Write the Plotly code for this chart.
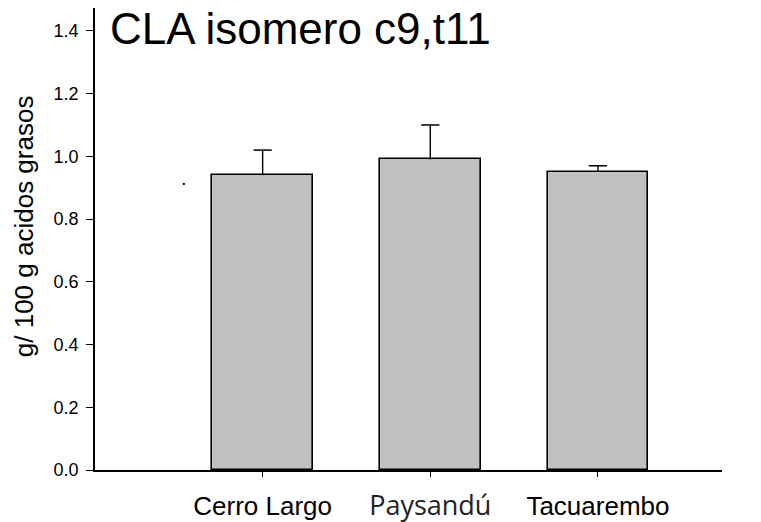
import plotly.graph_objects as go

# Contenido de CLA c9,t11 por departamento (g / 100 g de ácidos grasos)
departamentos = ["Cerro Largo", "Paysandú", "Tacuarembo"]
medias = [0.94, 0.99, 0.95]
errores = [0.08, 0.11, 0.02]
y_ticks = [0.0, 0.2, 0.4, 0.6, 0.8, 1.0, 1.2, 1.4]

# punto suelto junto a la primera barra
punto_x = [-0.47]
punto_y = [0.912]

pos = list(range(len(departamentos)))
etiquetas = []
for d in departamentos:
    if d == "Paysandú":
        etiquetas.append('<span style="font-family:\'Open Sans\';font-size:27px;color:#222">' + d + "</span>")
    else:
        etiquetas.append(d)

fig = go.Figure()
fig.add_trace(go.Bar(
    x=pos, y=medias, width=0.6,
    marker=dict(color="#c0c0c0", line=dict(color="black", width=1.6)),
    showlegend=False, hoverinfo="skip",
))
# barras de error solo hacia arriba: tallo sin tapa inferior + tapa superior
techo = [m + e for m, e in zip(medias, errores)]
fig.add_trace(go.Scatter(
    x=pos, y=techo, mode="markers",
    marker=dict(symbol="line-ew", size=13, line=dict(color="black", width=1.5)),
    error_y=dict(type="data", symmetric=False, array=[0] * len(errores),
                 arrayminus=errores, color="black", thickness=1.4, width=0),
    showlegend=False, hoverinfo="skip",
))
fig.add_trace(go.Scatter(
    x=punto_x, y=punto_y, mode="markers",
    marker=dict(symbol="square", size=2, color="black"),
    showlegend=False, hoverinfo="skip",
))

fig.update_layout(
    width=761, height=522,
    margin=dict(l=95, r=39, t=8, b=52),
    paper_bgcolor="white", plot_bgcolor="white",
    font=dict(family="Liberation Sans, Arial, sans-serif", color="black"),
    bargap=0,
)
fig.update_xaxes(
    range=[-1.0, 2.74], tickvals=pos, ticktext=etiquetas,
    showline=True, linecolor="black", linewidth=1.5,
    ticks="outside", ticklen=5, tickcolor="black", tickwidth=1,
    tickfont=dict(size=26, color="black"), ticklabelstandoff=7,
    showgrid=False, zeroline=False, automargin=False,
)
fig.update_yaxes(
    range=[0, 1.473], tickvals=y_ticks, tickformat=".1f",
    showline=True, linecolor="black", linewidth=1.5,
    ticks="outside", ticklen=7, tickcolor="black", tickwidth=1,
    tickfont=dict(size=18, color="black"), ticklabelstandoff=4,
    showgrid=False, zeroline=False, automargin=False,
)
fig.add_annotation(
    text="g/ 100 g acidos grasos", xref="paper", yref="paper",
    x=-0.113, y=0.528, xanchor="center", yanchor="middle", textangle=-90,
    showarrow=False, font=dict(size=26, color="black"),
)
fig.add_annotation(
    text="CLA isomero c9,t11", xref="paper", yref="paper",
    x=0.02, y=1.0, xanchor="left", yanchor="top", yshift=6, showarrow=False,
    font=dict(size=44, color="black"),
)

fig.write_html("out.html")
